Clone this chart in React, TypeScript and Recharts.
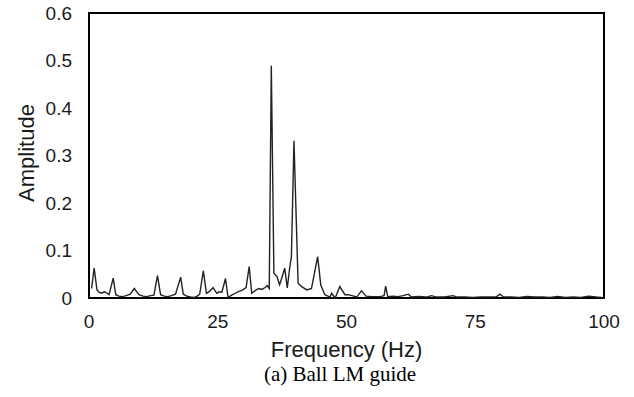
import { LineChart, Line, XAxis, YAxis, ReferenceArea, Label } from 'recharts';

// spectrum (Hz, amplitude)
const freqHz = [
  0.5, 1.0, 1.55, 2.0, 2.4, 3.0, 3.4, 3.9, 4.7, 5.2, 5.8, 6.5, 7.2, 8.0, 8.8, 9.7, 10.5, 11.2, 12.0, 12.6,
  13.3, 13.9, 14.6, 15.3, 16.0, 16.8, 17.8, 18.3, 19.0, 19.7, 20.4, 21.0, 21.5, 22.2, 22.8, 23.4, 24.1, 24.8,
  25.3, 25.8, 26.5, 27.0, 27.7, 28.4, 29.1, 29.7, 30.5, 31.1, 31.6, 32.3, 33.0, 33.6, 34.2, 34.6, 35.0, 35.4,
  35.9, 36.5, 37.0, 37.4, 38.0, 38.5, 39.0, 39.3, 39.8, 40.6, 41.3, 42.3, 43.2, 44.4, 45.0, 45.8, 46.8, 47.1,
  47.8, 48.7, 49.7, 50.3, 52.0, 52.9, 53.8, 55.0, 56.5, 57.3, 57.6, 58.0, 59.0, 60.0, 61.0, 62.0, 62.6, 64.0,
  65.5, 66.5, 67.5, 69.0, 70.7, 71.5, 73.0, 74.5, 76.0, 77.5, 79.0, 79.8, 80.5, 82.0, 83.5, 85.0, 86.5, 88.0,
  89.5, 91.0, 92.5, 94.0, 95.5, 97.0, 98.5, 99.5,
];
const amplitude = [
  0.02, 0.063, 0.017, 0.012, 0.01, 0.013, 0.011, 0.007, 0.042, 0.007, 0.004, 0.003, 0.005, 0.008, 0.02, 0.007,
  0.004, 0.003, 0.005, 0.006, 0.047, 0.007, 0.004, 0.003, 0.005, 0.008, 0.044, 0.008, 0.004, 0.002, 0.001,
  0.004, 0.008, 0.057, 0.01, 0.014, 0.022, 0.01, 0.013, 0.012, 0.041, 0.001, 0.006, 0.01, 0.014, 0.016, 0.022,
  0.066, 0.01, 0.016, 0.02, 0.018, 0.022, 0.026, 0.02, 0.489, 0.052, 0.045, 0.028, 0.041, 0.063, 0.021, 0.066,
  0.087, 0.331, 0.031, 0.024, 0.017, 0.02, 0.087, 0.028, 0.007, 0.002, 0.01, 0.0, 0.024, 0.007, 0.007, 0.002,
  0.015, 0.004, 0.003, 0.003, 0.005, 0.025, 0.003, 0.004, 0.003, 0.005, 0.008, 0.002, 0.003, 0.002, 0.005,
  0.002, 0.002, 0.005, 0.002, 0.002, 0.001, 0.002, 0.002, 0.002, 0.008, 0.002, 0.002, 0.001, 0.003, 0.002,
  0.002, 0.001, 0.003, 0.001, 0.002, 0.001, 0.004, 0.002, 0.001,
];
const xTicks = [0, 25, 50, 75, 100];
const yTicks = [0, 0.1, 0.2, 0.3, 0.4, 0.5, 0.6];

const sans = '"Liberation Sans", Arial, sans-serif';
const ink = '#1a1a1a';

export default function App() {
  const data = freqHz.map((f, i) => ({ f, amp: amplitude[i] }));

  return (
    <div style={{ position: 'absolute', left: 0, top: 0, width: 634, height: 397, background: '#fff' }}>
      <LineChart width={634} height={397} data={data} margin={{ top: 13, right: 30, left: 0, bottom: 40 }}>
        <XAxis
          type="number"
          dataKey="f"
          domain={[0, 100]}
          ticks={xTicks}
          axisLine={false}
          tickLine={false}
          tickSize={0}
          tickMargin={17}
          height={59}
          tick={{ fontSize: 19, fill: ink, fontFamily: sans }}
        >
          <Label value="Frequency (Hz)" position="insideBottom" offset={0} style={{ fontSize: 22, fill: ink, fontFamily: sans }} />
        </XAxis>
        <YAxis
          type="number"
          domain={[0, 0.6]}
          ticks={yTicks}
          axisLine={false}
          tickLine={false}
          tickSize={0}
          tickMargin={17}
          width={89}
          tickFormatter={(v: number) => (v === 0 ? '0' : v.toFixed(1))}
          tick={{ fontSize: 19, fill: ink, fontFamily: sans }}
        />
        <ReferenceArea x1={0} x2={100} y1={0} y2={0.6} fill="none" stroke="#000" strokeWidth={2} fillOpacity={0} />
        <Line type="linear" dataKey="amp" stroke="#222" strokeWidth={1.4} dot={false} isAnimationActive={false} />
      </LineChart>
      <div
        style={{
          position: 'absolute',
          left: 27,
          top: 153,
          transform: 'translate(-50%, -50%) rotate(-90deg)',
          fontFamily: sans,
          fontSize: 22,
          color: ink,
          whiteSpace: 'nowrap',
        }}
      >
        Amplitude
      </div>
      <div
        style={{
          position: 'absolute',
          left: 0,
          width: 680,
          top: 363,
          lineHeight: '22px',
          textAlign: 'center',
          fontFamily: '"Liberation Serif", "Times New Roman", serif',
          fontSize: 21,
          color: '#000',
        }}
      >
        (a) Ball LM guide
      </div>
    </div>
  );
}
